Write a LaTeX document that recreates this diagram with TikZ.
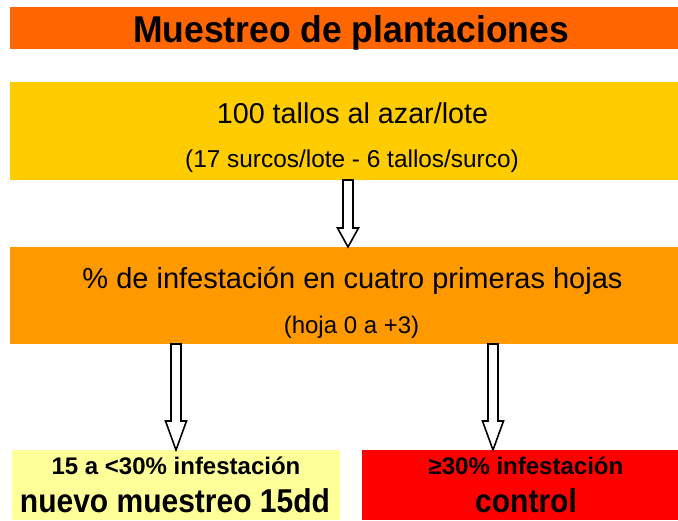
\documentclass[tikz,border=0pt]{standalone}
\usepackage{fontspec}
\setmainfont{Liberation Sans}
\usetikzlibrary{calc}
\definecolor{ctitle}{HTML}{FF6600}
\definecolor{cone}{HTML}{FFCC00}
\definecolor{ctwo}{HTML}{FF9900}
\definecolor{cleft}{HTML}{FFFF99}
\definecolor{cright}{HTML}{FF0000}
\tikzset{
  box/.style={rectangle, draw=none, inner sep=0pt, outer sep=0pt},
  txt/.style={inner sep=0pt, anchor=base},
  hollow/.style={draw=black, fill=white, line width=1.6pt, line join=miter},
}
\newcommand\blockarrow[4]{% from, to, head length, x offset
  \draw[hollow] let \p1=#1, \p2=#2 in
    (\x1+#4-5pt,\y1) -- (\x1+#4-5pt,\y2+#3) -- (\x1+#4-10.5pt,\y2+#3) --
    (\x1+#4,\y2) -- (\x1+#4+10.5pt,\y2+#3) -- (\x1+#4+5pt,\y2+#3) --
    (\x1+#4+5pt,\y1) -- cycle;}
\begin{document}
\begin{tikzpicture}[x=1pt,y=-1pt]
\useasboundingbox (0,0) rectangle (678,520);
% boxes
\node[box, fill=ctitle, minimum width=668pt, minimum height=42pt] (title) at (344,28) {};
\node[box, fill=cone, minimum width=668pt, minimum height=98pt] (b1) at (344,131) {};
\node[box, fill=ctwo, minimum width=668pt, minimum height=97pt] (b2) at (344,295.5) {};
\node[box, fill=cleft, minimum width=328pt, minimum height=70pt] (bl) at (176,485) {};
\node[box, fill=cright, minimum width=316pt, minimum height=70pt] (br) at (520,485) {};
% texts
\node[txt] (t0) at (351,42) {\fontsize{35.5}{40}\selectfont\bfseries \scalebox{1}[1.05]{Muestreo de plantaciones}};
\node[txt] (t1) at (352.5,123) {\fontsize{28.7}{34}\selectfont 100 tallos al azar/lote};
\node[txt] (t1b) at (352,167) {\fontsize{24.4}{28}\selectfont (17 surcos/lote - 6 tallos/surco)};
\node[txt] (t2) at (352.5,288) {\fontsize{29}{34}\selectfont \% de infestación en cuatro primeras hojas};
\node[txt] (t2b) at (351.5,333) {\fontsize{24}{28}\selectfont (hoja 0 a +3)};
\node[txt] (t3) at (176,474) {\fontsize{24}{28}\selectfont\bfseries 15 a <30\% infestación};
\node[txt] (t3b) at (175,512) {\fontsize{30}{34}\selectfont\bfseries \scalebox{1}[1.1]{nuevo muestreo 15dd}};
\node[txt] (t4) at (526,474) {\fontsize{24}{28}\selectfont\bfseries ≥30\% infestación};
\node[txt] (t4b) at (526,512) {\fontsize{30}{34}\selectfont\bfseries \scalebox{1}[1.1]{control}};
% arrows
\blockarrow{(b1.south)}{(b2.north)}{19pt}{4pt}
\blockarrow{(b2.south -| bl.north)}{(bl.north)}{29pt}{0pt}
\blockarrow{(b2.south -| br.north)}{(br.north)}{29pt}{-27pt}
\end{tikzpicture}
\end{document}
